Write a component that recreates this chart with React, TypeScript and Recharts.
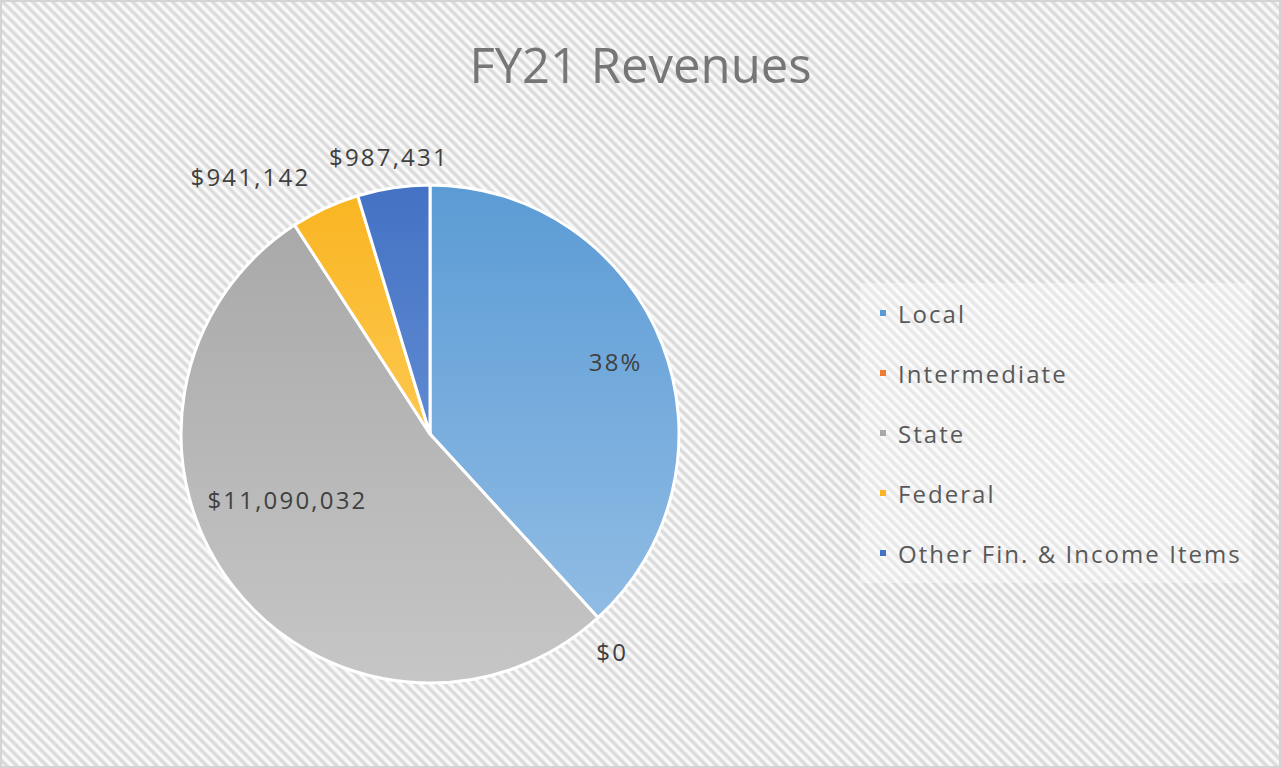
import { PieChart, Pie, Cell, Legend } from "recharts";

const CATEGORIES = ["Local", "Intermediate", "State", "Federal", "Other Fin. & Income Items"];
// Local is only shown as 38%, so its dollar value is estimated from the slice angle
const VALUES = [8050000, 0, 11090032, 941142, 987431];
const SHOW_PERCENT = [true, false, false, false, false];

const BASE = ["#5b9bd5", "#ed7d31", "#a9a9a9", "#f9b522", "#4472c4"];
const LIGHT = ["#90bce4", "#f4a36c", "#c6c6c6", "#fdc850", "#5f8ad2"];
const TEXT = "#404040";
const FONT = "'Open Sans', 'Noto Sans', sans-serif";

// label placement: radius as share of outer radius, and clockwise angle shift in degrees
const LABEL_RADIUS = [0.8, 1.14, 0.63, 1.26, 1.125];
const LABEL_SHIFT = [0, 2.5, 13, -10, 0];

const data = CATEGORIES.map((name, i) => ({ name, value: VALUES[i] }));

const RADIAN = Math.PI / 180;

function renderLabel(props: any) {
  const { cx, cy, midAngle, outerRadius, index, value, percent } = props;
  const r = outerRadius * LABEL_RADIUS[index];
  const a = (midAngle - LABEL_SHIFT[index]) * RADIAN;
  const x = cx + r * Math.cos(a);
  const y = cy - r * Math.sin(a);
  const txt = SHOW_PERCENT[index]
    ? `${Math.round(percent * 100)}%`
    : `$${Number(value).toLocaleString("en-US")}`;
  return (
    <text
      key={`lbl-${index}`}
      x={x}
      y={y}
      fill={TEXT}
      fontFamily={FONT}
      fontSize={24}
      letterSpacing={2.2}
      textAnchor="middle"
      dominantBaseline="central"
    >
      {txt}
    </text>
  );
}

function LegendBox() {
  return (
    <div
      style={{
        background: "rgba(255,255,255,0.35)",
        width: 392,
        height: 300,
        boxSizing: "border-box",
        paddingLeft: 20,
        fontFamily: FONT,
      }}
    >
      {CATEGORIES.map((name, i) => (
        <div
          key={name}
          style={{ height: 60, display: "flex", alignItems: "center", color: "#595959" }}
        >
          <span
            style={{ width: 6, height: 6, background: BASE[i], marginRight: 12, flex: "none" }}
          />
          <span style={{ fontSize: 24, letterSpacing: 2.05, whiteSpace: "nowrap" }}>{name}</span>
        </div>
      ))}
    </div>
  );
}

export default function App() {
  return (
    <div
      style={{
        position: "absolute",
        left: 0,
        top: 0,
        width: 1281,
        height: 768,
        boxSizing: "border-box",
        border: "2px solid #d4d4d4",
        background:
          "repeating-linear-gradient(45deg, #ffffff 0px, #d5d5d5 3.5px, #ffffff 7.07px)",
      }}
    >
      <div
        style={{
          position: "absolute",
          left: 0,
          width: 1277,
          top: 30,
          textAlign: "center",
          fontFamily: FONT,
          fontSize: 49,
          color: "#767676",
          lineHeight: "64px",
        }}
      >
        FY21 Revenues
      </div>
      <div style={{ position: "absolute", left: -2, top: -2 }}>
        <PieChart width={1281} height={768} margin={{ top: 0, right: 0, bottom: 0, left: 0 }}>
          <defs>
            {BASE.map((c, i) => (
              <linearGradient key={i} id={`grad-${i}`} x1="0" y1="0" x2="0" y2="1">
                <stop offset="0%" stopColor={c} />
                <stop offset="100%" stopColor={LIGHT[i]} />
              </linearGradient>
            ))}
          </defs>
          <Pie
            data={data}
            dataKey="value"
            nameKey="name"
            cx={430}
            cy={434}
            outerRadius={249}
            startAngle={90}
            endAngle={-270}
            stroke="#ffffff"
            strokeWidth={3}
            label={renderLabel}
            labelLine={false}
            isAnimationActive={false}
          >
            {data.map((d, i) => (
              <Cell key={d.name} fill={`url(#grad-${i})`} />
            ))}
          </Pie>
          <Legend
            content={<LegendBox />}
            wrapperStyle={{ left: 860, top: 283, width: 392, height: 300 }}
          />
        </PieChart>
      </div>
    </div>
  );
}
